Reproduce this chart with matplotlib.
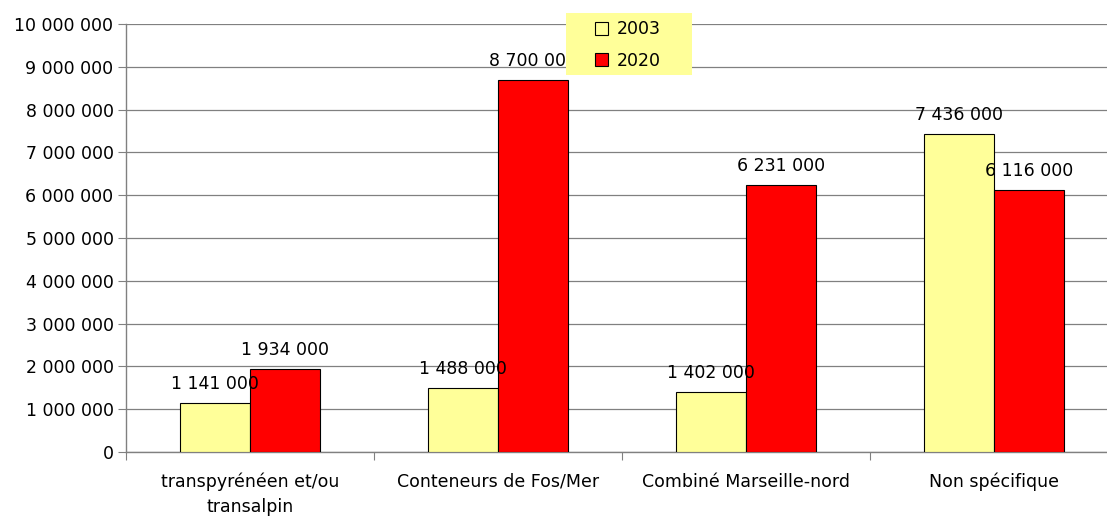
import numpy as np
import matplotlib.pyplot as plt
from matplotlib.patches import Patch, Rectangle

# Data
categories = ['transpyrénéen et/ou\ntransalpin', 'Conteneurs de Fos/Mer',
              'Combiné Marseille-nord', 'Non spécifique']
values_2003 = [1141000, 1488000, 1402000, 7436000]
values_2020 = [1934000, 8700000, 6231000, 6116000]
series_names = ['2003', '2020']


def fmt(v):
    return f"{v:,.0f}".replace(',', ' ')


plt.rcParams['font.family'] = ['DejaVu Sans']
FS = 12.5

fig = plt.figure(figsize=(11.07, 5.16), dpi=100)
ax = fig.add_axes([126 / 1107, 1 - 452 / 516, 992 / 1107, 428 / 516])

x = np.arange(len(categories))
w = 0.283
bars1 = ax.bar(x - w / 2, values_2003, w, color='#FFFF99', edgecolor='black', linewidth=0.8, zorder=3)
bars2 = ax.bar(x + w / 2, values_2020, w, color='#FF0000', edgecolor='black', linewidth=0.8, zorder=3)

# value labels above bars
for bars, vals in [(bars1, values_2003), (bars2, values_2020)]:
    for b, v in zip(bars, vals):
        ax.text(b.get_x() + b.get_width() / 2, v + 230000, fmt(v),
                ha='center', va='bottom', fontsize=FS, color='black', zorder=4)

ax.set_xlim(-0.5, len(categories) - 0.5)
ax.set_ylim(0, 10000000)
yt = np.arange(0, 10000001, 1000000)
ax.set_yticks(yt)
ax.set_yticklabels([fmt(v) for v in yt], fontsize=FS)

ax.set_xticks(x)
ax.set_xticklabels(categories, fontsize=FS, linespacing=1.45)
ax.tick_params(axis='x', length=0, pad=15)
ax.set_xticks(np.arange(-0.5, len(categories)), minor=True)
ax.tick_params(axis='x', which='minor', length=6, width=0.8, direction='out', color='#808080')
ax.tick_params(axis='y', length=6, width=0.8, direction='out', pad=3, color='#808080')

ax.grid(axis='y', color='#808080', linewidth=0.9, zorder=0)
for s in ['top', 'right']:
    ax.spines[s].set_visible(False)
for s in ['left', 'bottom']:
    ax.spines[s].set_color('#808080')
    ax.spines[s].set_linewidth(1)

# legend: yellow box with two entries
fig.patches.append(Rectangle((566 / 1107, 1 - 75 / 516), 126 / 1107, 62 / 516,
                             transform=fig.transFigure, facecolor='#FFFF99',
                             edgecolor='none', zorder=9))
handles = [Patch(facecolor='#FFFF99', edgecolor='black', linewidth=0.8),
           Patch(facecolor='#FF0000', edgecolor='black', linewidth=0.8)]
leg = fig.legend(handles, series_names, loc='center left',
                 bbox_to_anchor=(595 / 1107, 1 - 45 / 516), fontsize=FS,
                 frameon=False, handlelength=0.75, handleheight=0.75,
                 handletextpad=0.5, borderpad=0, labelspacing=0.75, borderaxespad=0)
leg.set_zorder(10)

fig.savefig('out.png', dpi=100, facecolor='white')
